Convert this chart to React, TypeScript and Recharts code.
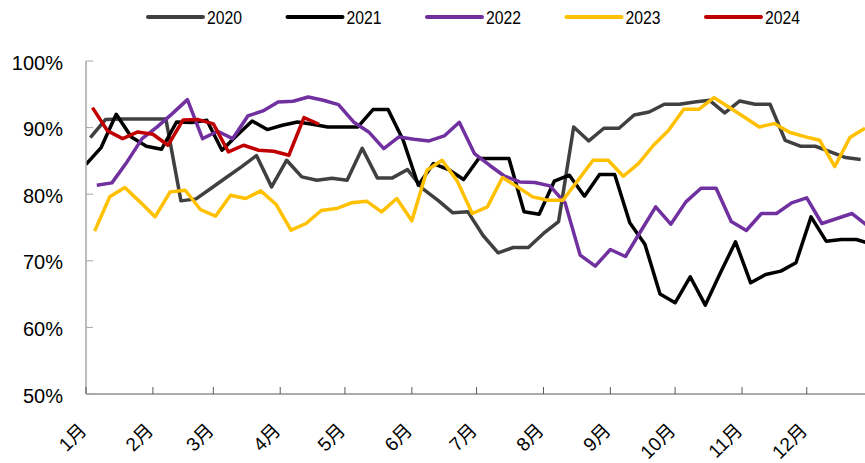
import React from 'react';
import { LineChart, Line, XAxis, YAxis, Legend } from 'recharts';

// Weekly readings (%), one array per year
const rate2020 = [88.5, 91.2, 91.3, 91.3, 91.3, 91.3, 79.0, 79.3, 80.9, 82.5, 84.1, 85.8, 81.1, 85.1, 82.6, 82.1, 82.4, 82.1, 86.9, 82.45, 82.45, 83.7, 80.85, 79.1, 77.2, 77.35, 73.8, 71.2, 72.0, 72.0, 74.1, 75.9, 90.1, 88.0, 89.9, 89.9, 91.9, 92.35, 93.5, 93.5, 93.85, 94.1, 92.2, 94.0, 93.5, 93.5, 88.1, 87.2, 87.2, 86.35, 85.5, 85.2];
const rate2021 = [84.5, 87.0, 92.0, 88.6, 87.2, 86.75, 90.85, 90.75, 91.1, 86.6, 88.85, 91.0, 89.7, 90.35, 90.85, 90.5, 90.1, 90.1, 90.1, 92.7, 92.7, 88.1, 81.35, 84.6, 83.7, 82.2, 85.35, 85.35, 85.35, 77.35, 77.0, 81.95, 82.85, 79.7, 82.95, 82.95, 75.7, 72.5, 65.0, 63.7, 67.6, 63.35, 68.2, 72.85, 66.7, 67.95, 68.45, 69.7, 76.6, 72.95, 73.2, 73.2, 72.5];
const rate2022 = [81.35, 81.7, 84.85, 88.35, 90.1, 92.1, 94.2, 88.35, 89.45, 88.35, 91.75, 92.5, 93.85, 93.95, 94.6, 94.1, 93.45, 90.85, 89.35, 86.85, 88.6, 88.25, 88.0, 88.75, 90.8, 86.1, 84.35, 82.7, 81.85, 81.75, 81.25, 78.7, 70.85, 69.2, 71.7, 70.65, 74.4, 78.1, 75.5, 78.85, 80.9, 80.9, 75.9, 74.55, 77.1, 77.1, 78.7, 79.45, 75.6, 76.35, 77.1, 75.3];
const rate2023 = [74.45, 79.6, 81.0, 78.85, 76.6, 80.35, 80.6, 77.7, 76.7, 79.85, 79.35, 80.5, 78.5, 74.6, 75.6, 77.55, 77.85, 78.7, 78.95, 77.35, 79.35, 76.0, 83.6, 85.1, 82.0, 77.1, 78.1, 82.5, 81.1, 79.6, 79.1, 79.1, 82.1, 85.1, 85.1, 82.7, 84.6, 87.35, 89.6, 92.75, 92.75, 94.5, 93.05, 91.6, 90.1, 90.6, 89.3, 88.65, 88.1, 84.15, 88.5, 89.9];
const rate2024 = [93.0, 89.5, 88.35, 89.35, 89.0, 87.35, 91.15, 91.2, 90.55, 86.35, 87.35, 86.6, 86.45, 85.85, 91.5, 90.5];

const years = ['2020', '2021', '2022', '2023', '2024'];
const colors = ['#404040', '#000000', '#7030A0', '#FFC000', '#C00000'];
// day of year (0-based) of each year's first weekly reading
const firstDay = [2, 0, 5, 4, 3];
const rates = [rate2020, rate2021, rate2022, rate2023, rate2024];

const monthStarts = [0, 31, 59, 90, 120, 151, 181, 212, 243, 273, 304, 334];
const monthLabels = ['1月', '2月', '3月', '4月', '5月', '6月', '7月', '8月', '9月', '10月', '11月', '12月'];
const yTicks = [50, 60, 70, 80, 90, 100];

const series = years.map((year, i) => ({
  year,
  color: colors[i],
  data: rates[i].map((value, k) => ({ day: firstDay[i] + 7 * k, value })),
}));

const FONT = "'Liberation Sans', Arial, 'Noto Sans CJK SC', sans-serif";

const MonthTick = (props: any) => {
  const { x, y, payload } = props;
  const idx = monthStarts.indexOf(payload.value);
  const label = idx >= 0 ? monthLabels[idx] : '';
  const tx = x - 3;
  const ty = y + 33;
  return (
    <g>
      <line x1={x} y1={y} x2={x} y2={y - 7} stroke="#595959" strokeWidth={1} />
      <text
        x={tx}
        y={ty}
        transform={`rotate(-45 ${tx} ${ty})`}
        textAnchor="end"
        dominantBaseline="central"
        fontSize={19}
        fontFamily={FONT}
        fill="#000"
      >
        {label}
      </text>
    </g>
  );
};

const PercentTick = (props: any) => {
  const { x, y, payload } = props;
  return (
    <g>
      <line x1={x} y1={y} x2={x + 7} y2={y} stroke="#a6a6a6" strokeWidth={1} />
      <text
        x={x - 23}
        y={y + 1.5}
        textAnchor="end"
        dominantBaseline="central"
        fontSize={20}
        fontFamily={FONT}
        fill="#000"
      >
        {`${payload.value}%`}
      </text>
    </g>
  );
};

const LegendContent = () => (
  <svg width={865} height={34}>
    {series.map((s, i) => {
      const x0 = 148 + i * 139.5;
      return (
        <g key={s.year}>
          <line x1={x0} y1={17} x2={x0 + 55} y2={17} stroke={s.color} strokeWidth={4} strokeLinecap="round" />
          <text
            x={x0 + 59}
            y={17.5}
            dominantBaseline="central"
            fontSize={19}
            textLength={35}
            lengthAdjust="spacingAndGlyphs"
            fontFamily={FONT}
            fill="#000"
          >
            {s.year}
          </text>
        </g>
      );
    })}
  </svg>
);

export default function App() {
  return (
    <div style={{ position: 'absolute', left: 0, top: 0, width: 865, height: 463, background: '#fff' }}>
      <LineChart width={865} height={463} margin={{ top: 61, right: 0, bottom: 0, left: 0 }}>
        <Legend
          content={<LegendContent />}
          layout="horizontal"
          verticalAlign="middle"
          align="center"
          wrapperStyle={{ top: 0, left: 0, width: 865, height: 34 }}
        />
        <XAxis
          type="number"
          dataKey="day"
          domain={[0, 361]}
          allowDataOverflow
          ticks={monthStarts}
          interval={0}
          height={69}
          tickSize={0}
          tickMargin={0}
          tickLine={false}
          axisLine={{ stroke: '#595959', strokeWidth: 1.2 }}
          tick={<MonthTick />}
        />
        <YAxis
          type="number"
          domain={[50, 100]}
          ticks={yTicks}
          interval={0}
          width={86}
          tickSize={0}
          tickMargin={0}
          tickLine={false}
          axisLine={{ stroke: '#a6a6a6', strokeWidth: 1.5 }}
          tick={<PercentTick />}
        />
        {series.map((s) => (
          <Line
            key={s.year}
            data={s.data}
            dataKey="value"
            name={s.year}
            type="linear"
            stroke={s.color}
            strokeWidth={3.5}
            strokeLinejoin="round"
            dot={false}
            activeDot={false}
            isAnimationActive={false}
          />
        ))}
      </LineChart>
    </div>
  );
}
